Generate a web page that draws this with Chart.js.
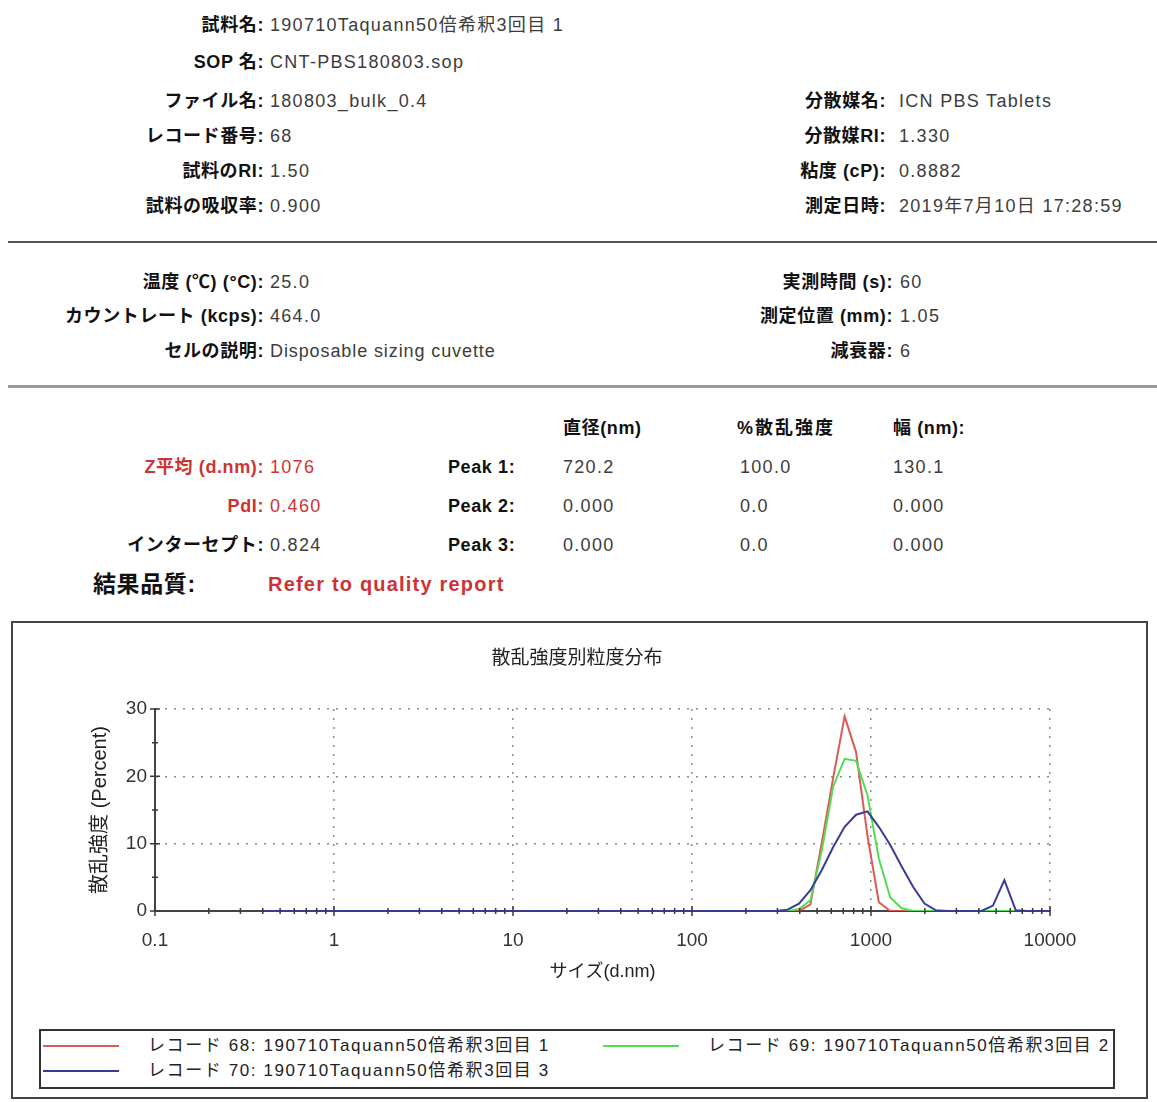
<!DOCTYPE html>
<html><head><meta charset="utf-8">
<script src="https://cdn.jsdelivr.net/npm/chart.js@4.4.1/dist/chart.umd.min.js"></script>
<style>
html,body{margin:0;padding:0;background:#fff;}
body{width:1157px;height:1102px;position:relative;overflow:hidden;font-family:"Liberation Sans","Noto Sans CJK JP",sans-serif;}
.t{position:absolute;white-space:nowrap;line-height:22px;height:22px;}
.lab{font-weight:bold;color:#111;font-size:18px;text-align:right;letter-spacing:0.6px;}
.val{color:#3c3c3c;font-size:18px;letter-spacing:1.3px;}
.hd{font-weight:bold;color:#111;font-size:18px;letter-spacing:0.6px;}
.red{color:#cc3434 !important;}
.rule{position:absolute;left:8px;width:1149px;}
#chartBox{position:absolute;left:11px;top:621px;width:1133px;height:474px;border:2px solid #444;}
#c{position:absolute;left:14px;top:624px;}
#legend{position:absolute;left:39px;top:1029px;width:1072px;height:56px;border:2px solid #333;}
.li{position:absolute;height:22px;}
.ll{position:absolute;left:0;top:10px;width:76px;height:2px;}
.lt{position:absolute;left:105px;top:0;line-height:22px;font-size:17px;letter-spacing:1.6px;color:#222;white-space:nowrap;}
</style></head>
<body>
<!-- section 1 -->
<div class="t lab" style="right:893px;top:14px">試料名:</div><div class="t val" style="left:270px;top:14px">190710Taquann50倍希釈3回目 1</div>
<div class="t lab" style="right:893px;top:51px">SOP 名:</div><div class="t val" style="left:270px;top:51px">CNT-PBS180803.sop</div>
<div class="t lab" style="right:893px;top:90px">ファイル名:</div><div class="t val" style="left:270px;top:90px">180803_bulk_0.4</div>
<div class="t lab" style="right:893px;top:125px">レコード番号:</div><div class="t val" style="left:270px;top:125px">68</div>
<div class="t lab" style="right:893px;top:160px">試料のRI:</div><div class="t val" style="left:270px;top:160px">1.50</div>
<div class="t lab" style="right:893px;top:195px">試料の吸収率:</div><div class="t val" style="left:270px;top:195px">0.900</div>
<div class="t lab" style="right:271px;top:90px">分散媒名:</div><div class="t val" style="left:899px;top:90px">ICN PBS Tablets</div>
<div class="t lab" style="right:271px;top:125px">分散媒RI:</div><div class="t val" style="left:899px;top:125px">1.330</div>
<div class="t lab" style="right:271px;top:160px">粘度 (cP):</div><div class="t val" style="left:899px;top:160px">0.8882</div>
<div class="t lab" style="right:271px;top:195px">測定日時:</div><div class="t val" style="left:899px;top:195px">2019年7月10日 17:28:59</div>
<div class="rule" style="top:241px;height:2px;background:#555"></div>
<!-- section 2 -->
<div class="t lab" style="right:893px;top:271px">温度 (℃) (°C):</div><div class="t val" style="left:270px;top:271px">25.0</div>
<div class="t lab" style="right:893px;top:305px">カウントレート (kcps):</div><div class="t val" style="left:270px;top:305px">464.0</div>
<div class="t lab" style="right:893px;top:340px">セルの説明:</div><div class="t val" style="left:270px;top:340px;letter-spacing:0.9px">Disposable sizing cuvette</div>
<div class="t lab" style="right:264px;top:271px">実測時間 (s):</div><div class="t val" style="left:900px;top:271px">60</div>
<div class="t lab" style="right:264px;top:305px">測定位置 (mm):</div><div class="t val" style="left:900px;top:305px">1.05</div>
<div class="t lab" style="right:264px;top:340px">減衰器:</div><div class="t val" style="left:900px;top:340px">6</div>
<div class="rule" style="top:385px;height:3px;background:#9a9a9a"></div>
<!-- section 3 -->
<div class="t hd" style="left:563px;top:417px">直径(nm)</div>
<div class="t hd" style="left:737px;top:417px;letter-spacing:2px">%散乱強度</div>
<div class="t hd" style="left:893px;top:417px">幅 (nm):</div>
<div class="t lab red" style="right:893px;top:456px">Z平均 (d.nm):</div><div class="t val red" style="left:270px;top:456px">1076</div>
<div class="t hd" style="left:448px;top:456px">Peak 1:</div>
<div class="t val" style="left:563px;top:456px">720.2</div><div class="t val" style="left:740px;top:456px">100.0</div><div class="t val" style="left:893px;top:456px">130.1</div>
<div class="t lab red" style="right:893px;top:495px">PdI:</div><div class="t val red" style="left:270px;top:495px">0.460</div>
<div class="t hd" style="left:448px;top:495px">Peak 2:</div>
<div class="t val" style="left:563px;top:495px">0.000</div><div class="t val" style="left:740px;top:495px">0.0</div><div class="t val" style="left:893px;top:495px">0.000</div>
<div class="t lab" style="right:893px;top:534px">インターセプト:</div><div class="t val" style="left:270px;top:534px">0.824</div>
<div class="t hd" style="left:448px;top:534px">Peak 3:</div>
<div class="t val" style="left:563px;top:534px">0.000</div><div class="t val" style="left:740px;top:534px">0.0</div><div class="t val" style="left:893px;top:534px">0.000</div>
<div class="t hd" style="left:93px;top:571px;font-size:23px;line-height:26px;height:26px;">結果品質:</div>
<div class="t hd red" style="left:268px;top:573px;font-size:20px;letter-spacing:1.2px;">Refer to quality report</div>

<div id="chartBox"></div>
<canvas id="c" width="1130" height="398"></canvas>
<div id="legend"></div>

<script>
// ---- data ----
const sizes = [0.4000, 0.4632, 0.5365, 0.6213, 0.7195, 0.8332, 0.9649, 1.117, 1.294, 1.499,
  1.736, 2.010, 2.328, 2.696, 3.122, 3.615, 4.187, 4.849, 5.615, 6.503,
  7.531, 8.721, 10.10, 11.70, 13.54, 15.69, 18.17, 21.04, 24.36, 28.21,
  32.67, 37.84, 43.82, 50.75, 58.77, 68.06, 78.82, 91.28, 105.7, 122.4,
  141.8, 164.2, 190.1, 220.2, 255.0, 295.3, 342.0, 396.1, 458.7, 531.2,
  615.1, 712.4, 825.0, 955.4, 1106, 1281, 1484, 1718, 1990, 2305,
  2669, 3091, 3580, 4145, 4801, 5560, 6439, 7456, 8635, 10000];
const record68 = [0,0,0,0,0,0,0,0,0,0, 0,0,0,0,0,0,0,0,0,0, 0,0,0,0,0,0,0,0,0,0,
  0,0,0,0,0,0,0,0,0,0, 0,0,0,0,0,0,0,0,1.0,10.2,
  19.8,28.9,23.6,11.2,1.3,0,0,0,0,0, 0,0,0,0,0,0,0,0,0,0];
const record69 = [0,0,0,0,0,0,0,0,0,0, 0,0,0,0,0,0,0,0,0,0, 0,0,0,0,0,0,0,0,0,0,
  0,0,0,0,0,0,0,0,0,0, 0,0,0,0,0,0,0,0.3,1.6,9.0,
  18.5,22.6,22.3,17.2,7.8,2.0,0.4,0,0,0, 0,0,0,0,0,0,0,0,0,0];
const record70 = [0,0,0,0,0,0,0,0,0,0, 0,0,0,0,0,0,0,0,0,0, 0,0,0,0,0,0,0,0,0,0,
  0,0,0,0,0,0,0,0,0,0, 0,0,0,0,0,0,0.2,1.1,3.1,6.1,
  9.5,12.5,14.3,14.8,12.5,9.8,6.6,3.6,1.1,0.1, 0,0,0,0,0.8,4.6,0.1,0,0,0];
const seriesLabels = ['レコード 68: 190710Taquann50倍希釈3回目 1',
  'レコード 69: 190710Taquann50倍希釈3回目 2',
  'レコード 70: 190710Taquann50倍希釈3回目 3'];
const seriesColors = ['#dc5a58', '#55dc55', '#3a3a98'];
const xMajorTicks = [0.1, 1, 10, 100, 1000, 10000];
const xTickLabels = ['0.1', '1', '10', '100', '1000', '10000'];
const xMinorMultipliers = [2, 3, 4, 5, 6, 7, 8, 9];
const yMin = 0, yMax = 30, yMinorStep = 5, yMajorStep = 10;
const chartTitle = '散乱強度別粒度分布';
const xTitle = 'サイズ(d.nm)';
const yTitle = '散乱強度 (Percent)';

// ---- legend (HTML, built from the series arrays) ----
const legendEl = document.getElementById('legend');
seriesLabels.forEach((lab, i) => {
  const col = i % 2, row = Math.floor(i / 2);
  const it = document.createElement('div');
  it.className = 'li';
  it.style.left = (2 + col * 560) + 'px';
  it.style.top = (4 + row * 25) + 'px';
  it.innerHTML = '<div class="ll" style="background:' + seriesColors[i] + '"></div><div class="lt"></div>';
  it.querySelector('.lt').textContent = lab;
  legendEl.appendChild(it);
});

// ---- chart ----
const xTicksAll = [];
xMajorTicks.forEach((m, i) => {
  xTicksAll.push({value: m, major: true});
  if (i < xMajorTicks.length - 1) xMinorMultipliers.forEach(k => xTicksAll.push({value: +(m * k).toPrecision(6), major: false}));
});

const crossTicks = {
  id: 'crossTicks',
  afterDatasetsDraw(chart) {
    const {ctx, scales: {x, y}} = chart;
    ctx.save();
    ctx.strokeStyle = '#3a3a3a';
    ctx.lineWidth = 1.5;
    ctx.beginPath();
    x.ticks.forEach(t => {
      const px = x.getPixelForValue(t.value);
      const l = t.major ? 5 : 3;
      ctx.moveTo(px, y.bottom - l); ctx.lineTo(px, y.bottom + l);
    });
    y.ticks.forEach(t => {
      const py = y.getPixelForValue(t.value);
      const l = (t.value % yMajorStep === 0) ? 5 : 3;
      ctx.moveTo(x.left - l, py); ctx.lineTo(x.left + l, py);
    });
    ctx.stroke();
    ctx.restore();
  }
};

Chart.defaults.font.family = '"Liberation Sans", "Noto Sans CJK JP", sans-serif';
const series = [record68, record69, record70];
new Chart(document.getElementById('c'), {
  type: 'line',
  data: {
    datasets: series.map((vals, i) => ({
      label: seriesLabels[i],
      data: sizes.map((s, j) => ({x: s, y: vals[j]})),
      borderColor: seriesColors[i],
      backgroundColor: seriesColors[i],
      borderWidth: 2,
      pointRadius: 0,
      tension: 0,
      fill: false,
      order: series.length - i
    }))
  },
  options: {
    responsive: false,
    animation: false,
    devicePixelRatio: 1,
    layout: {padding: {left: 90, right: 94, top: 0, bottom: 0}},
    plugins: {
      legend: {display: false},
      tooltip: {enabled: false},
      title: {display: true, text: chartTitle, color: '#222',
        font: {family: '"Noto Sans CJK JP", sans-serif', size: 19, weight: 'normal'},
        padding: {top: 21.6, bottom: 40.6}}
    },
    scales: {
      x: {
        type: 'logarithmic', position: 'bottom', min: 0.1, max: 10000,
        afterFit(s) { s.height = 111; },
        afterBuildTicks(s) { s.ticks = xTicksAll.map(t => ({value: t.value, major: t.major})); },
        grid: {drawTicks: false, lineWidth: 1.5,
          color: c => (c.tick && c.tick.major && c.tick.value > 0.1) ? '#8a8a8a' : 'rgba(0,0,0,0)'},
        border: {display: true, color: '#444', width: 2, dash: [2, 7]},
        ticks: {autoSkip: false, maxRotation: 0, minRotation: 0, padding: 18, color: '#333',
          font: {size: 19},
          callback: (v, i, ticks) => ticks[i] && ticks[i].major ? xTickLabels[xMajorTicks.indexOf(ticks[i].value)] : ''},
        title: {display: true, text: xTitle, color: '#222', font: {size: 18}, padding: {top: 0, bottom: 39}}
      },
      y: {
        min: yMin, max: yMax,
        afterFit(s) { s.width = 51; },
        grid: {drawTicks: false, lineWidth: 1.5,
          color: c => (c.tick && c.tick.value > 0 && c.tick.value % yMajorStep === 0) ? '#8a8a8a' : 'rgba(0,0,0,0)'},
        border: {display: true, color: '#444', width: 2, dash: [2, 7]},
        ticks: {stepSize: yMinorStep, padding: 8, color: '#333', font: {size: 19},
          callback: v => (v % yMajorStep === 0 ? String(v) : '')},
        title: {display: true, text: yTitle, color: '#222', font: {size: 20}, padding: {top: -16, bottom: 0}}
      }
    }
  },
  plugins: [crossTicks]
});
</script>
</body></html>
